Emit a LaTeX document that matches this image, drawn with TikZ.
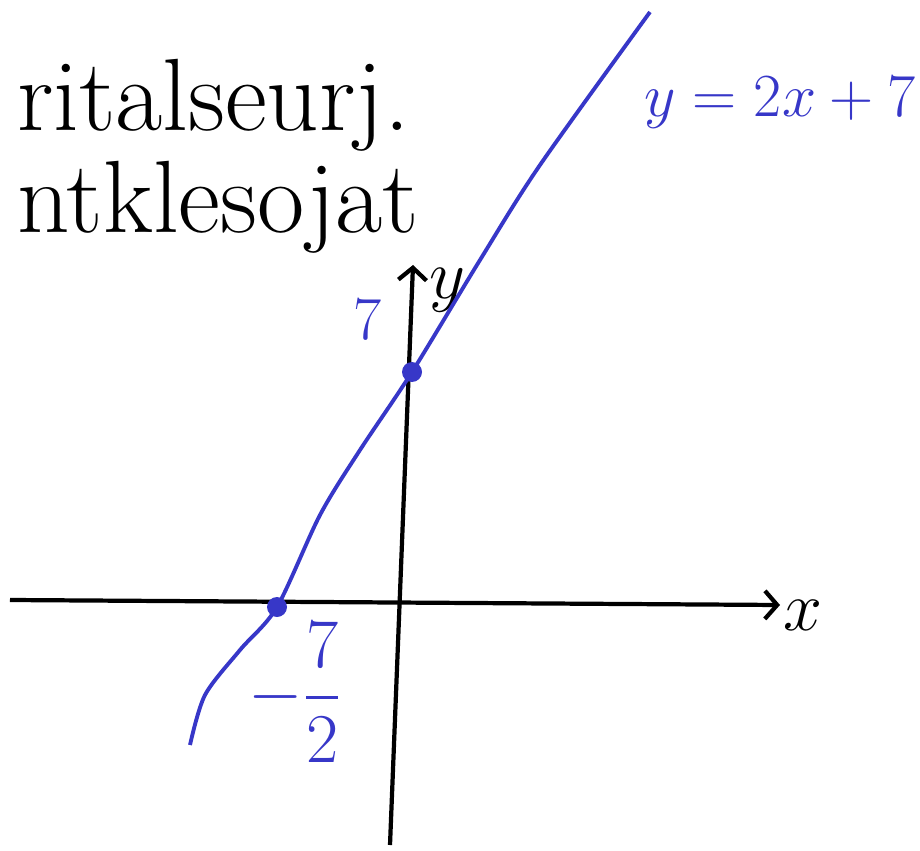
\documentclass[tikz,border=0pt]{standalone}
\usepackage{amsfonts,amsmath,amssymb}
\usepackage{xcolor}
\usepackage{tikz}
\usetikzlibrary{arrows.meta}
\definecolor{ink}{RGB}{55,55,200}

\begin{document}
\begin{tikzpicture}[>=Straight Barb]
\useasboundingbox(-8,-4.9) rectangle (10.4,12.1);
\coordinate(xl) at (-7.8,0.1);
\coordinate(xr) at (7.6,0);
\coordinate(yb) at (-0.2,-4.8);
\coordinate(yt) at (0.26,6.8);
\coordinate(xcut) at (-2.46,-0.04);
\coordinate(ycut) at (0.24,4.66);
\draw[line width=2.4pt,-{Straight Barb[length=7pt,width=16pt]}](xl)--(xr);
\draw[line width=2.4pt,-{Straight Barb[length=7pt,width=16pt]}](yb)--(yt);
\draw(8.05,-0.2)node(xlab)[scale=1.6]{\Huge $x$}
(0.95,6.3)node(ylab)[scale=1.6]{\Huge $y$}
(-7.95,10.0)node(title)[anchor=west,scale=2.35]{\Huge ritalseurj.}
(-7.95,7.95)node(subtitle)[anchor=west,scale=2.35]{\Huge ntklesojat};
\draw[ink,line width=2.2pt,smooth]plot coordinates{(-4.2,-2.8)(-3.9,-1.8)(-3.2,-0.9)(-2.46,-0.04)(-1.6,1.8)(-0.8,3.1)(0.24,4.66)(1.6,6.9)(2.8,8.8)(5.0,11.86)};
\fill[ink](xcut)circle(0.2)
(ycut)circle(0.2);
\draw[ink](-0.64,5.7)node(ylab7)[scale=1.4]{\Huge $7$}
(-2.1,-1.75)node(xlab7)[scale=1.6]{\Huge $-\dfrac{7}{2}$}
(7.6,10.05)node(eq)[scale=1.4]{\Huge $y=2x+7$};
\end{tikzpicture}
\end{document}
